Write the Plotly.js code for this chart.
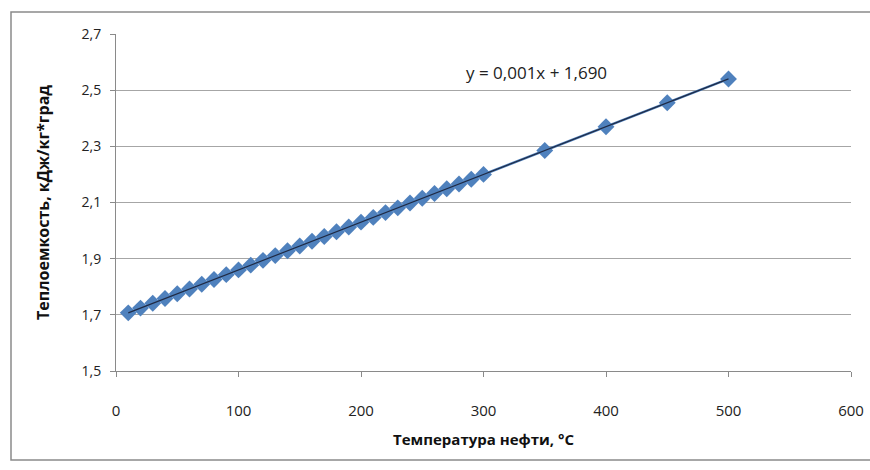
<!DOCTYPE html>
<html>
<head>
<meta charset="utf-8">
<script src="https://cdn.plot.ly/plotly-3.0.1.min.js"></script>
<style>html,body{margin:0;padding:0;background:#fff;}#chart{width:870px;height:470px;}</style>
</head>
<body>
<div id="chart"></div>
<script>
// Data
const temperature = [10,20,30,40,50,60,70,80,90,100,110,120,130,140,150,160,170,180,190,200,210,220,230,240,250,260,270,280,290,300,350,400,450,500];
const heatCapacity = [1.707,1.724,1.741,1.758,1.775,1.792,1.809,1.826,1.843,1.860,1.877,1.894,1.911,1.928,1.945,1.962,1.979,1.996,2.013,2.030,2.047,2.064,2.081,2.098,2.115,2.132,2.149,2.166,2.183,2.200,2.285,2.370,2.455,2.540];
const xTickVals = [0,100,200,300,400,500,600];
const yTickVals = [1.5,1.7,1.9,2.1,2.3,2.5,2.7];
const xTitle = 'Температура нефти, °С';
const yTitle = 'Теплоемкость, кДж/кг*град';
const equationText = 'y = 0,001x + 1,690';

// least-squares trendline from the data
const n = temperature.length;
let sx=0, sy=0, sxx=0, sxy=0;
for (let i=0;i<n;i++){sx+=temperature[i];sy+=heatCapacity[i];sxx+=temperature[i]*temperature[i];sxy+=temperature[i]*heatCapacity[i];}
const slope = (n*sxy - sx*sy)/(n*sxx - sx*sx);
const intercept = (sy - slope*sx)/n;
const tx = [temperature[0], temperature[n-1]];
const ty = tx.map(v => intercept + slope*v);

const traces = [
  {x: temperature, y: heatCapacity, type:'scatter', mode:'lines+markers',
   line:{color:'#4F81BD', width:2.5},
   marker:{symbol:'diamond', size:13, color:'#4F81BD'}, hoverinfo:'skip'},
  {x: tx, y: ty, type:'scatter', mode:'lines',
   line:{color:'#1f2a44', width:1.2}, hoverinfo:'skip'}
];

const fontFam = 'Open Sans, Noto Sans, DejaVu Sans, sans-serif';
const layout = {
  width:870, height:470,
  margin:{l:116, r:19, t:34, b:99},
  paper_bgcolor:'#fff', plot_bgcolor:'#fff',
  showlegend:false,
  separators:', ',
  font:{family:fontFam, size:13, color:'#222'},
  xaxis:{range:[0,600], tickvals:xTickVals, tickformat:'d', showgrid:false, zeroline:false,
    showline:true, linecolor:'#8a8a8a', linewidth:1, ticks:'outside', ticklen:5, tickcolor:'#8a8a8a',
    ticklabelstandoff:21,
    tickfont:{family:fontFam, size:15, color:'#222'},
    title:{text:xTitle, standoff:15, font:{family:fontFam, size:15, color:'#111', weight:'bold'}}},
  yaxis:{range:[1.5,2.7], tickvals:yTickVals, tickformat:'.1f', showgrid:true, gridcolor:'#a6a6a6', gridwidth:1,
    zeroline:false, showline:true, linecolor:'#8a8a8a', linewidth:1, ticks:'outside', ticklen:5, tickcolor:'#8a8a8a',
    ticklabelstandoff:6,
    tickfont:{family:fontFam, size:14, color:'#222'},
    title:{text:yTitle, standoff:27, font:{family:fontFam, size:16, color:'#111', weight:'bold'}}},
  annotations:[{xref:'x', yref:'y', x:343, y:2.562, text:equationText, showarrow:false,
    xanchor:'center', yanchor:'middle', font:{family:fontFam, size:17, color:'#222'}}],
  shapes:[{type:'rect', xref:'paper', yref:'paper',
    x0:(11-116)/735, x1:(874-116)/735, y0:(371-460)/337, y1:(371-12)/337,
    line:{color:'#8a8a8a', width:1.5}, fillcolor:'rgba(0,0,0,0)', layer:'below'}]
};

Plotly.newPlot('chart', traces, layout, {displayModeBar:false, staticPlot:true});
</script>
</body>
</html>
